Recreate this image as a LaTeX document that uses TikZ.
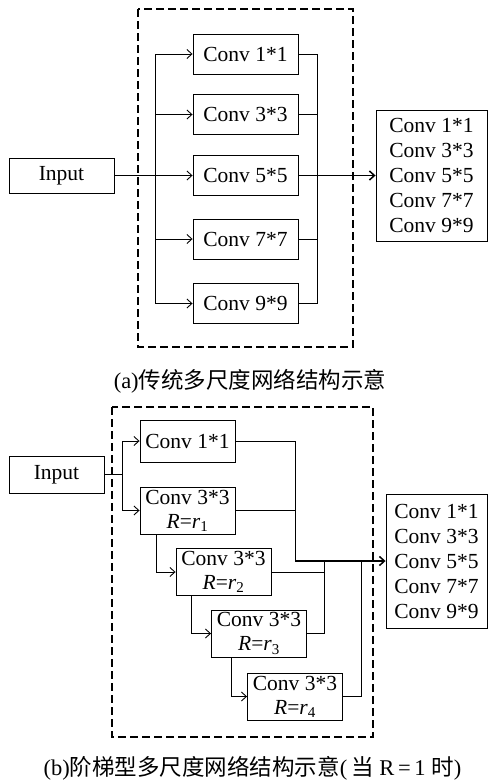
\documentclass[tikz,border=0pt]{standalone}
\usepackage{fontspec}
\setmainfont{Liberation Serif}
\newfontfamily\cjk{Noto Sans CJK SC}
\usetikzlibrary{arrows.meta}
\tikzset{
  convbox/.style={draw, line width=0.9pt, inner sep=0pt, minimum width=105pt,
    minimum height=40pt, font=\fontsize{21.5}{24}\selectfont},
  ladderbox/.style={convbox, minimum width=95pt, minimum height=47pt, align=center},
  listbox/.style={convbox, align=left, font=\fontsize{21.5}{25}\selectfont},
  link/.style={line width=0.9pt},
  mainlink/.style={line width=1.5pt},
  tip/.style={-{Straight Barb[length=5pt,width=9pt]}},
  groupframe/.style={line width=1.8pt, dash pattern=on 8pt off 4pt},
  caption/.style={font=\fontsize{22.5}{26}\selectfont},
}

\begin{document}
\begin{tikzpicture}[x=1pt, y=-1pt]
  \useasboundingbox (0,0) rectangle (488,782);

  % (a) parallel branches
  \draw[groupframe] (138,9) rectangle (353,347);
  \node[convbox, minimum height=35pt] (inA) at (61.5,175.5) {Input};
  \foreach \n/\y/\k in {1/54/1, 2/114.5/3, 3/175.5/5, 4/239/7, 5/303.5/9}{
    \node[convbox] (a\n) at (245.5,\y) {Conv \k*\k};
  }
  \node[listbox, minimum width=111pt, minimum height=131pt] (outA) at (431.5,175.5)
    {Conv 1*1\\Conv 3*3\\Conv 5*5\\Conv 7*7\\Conv 9*9};

  \coordinate (splitA) at (155,175.5);
  \coordinate (joinA) at (317,175.5);
  \draw[mainlink] (inA.east) -- (splitA);
  \draw[link] (a1.west -| splitA) -- (a5.west -| splitA);
  \draw[link] (a1.east -| joinA) -- (a5.east -| joinA);
  \foreach \n in {1,...,5}{
    \draw[link, tip] (a\n.west -| splitA) -- (a\n.west);
    \draw[link] (a\n.east) -- (a\n.east -| joinA);
  }
  \draw[mainlink, tip] (a3.east) -- (outA.west);

  \node[caption] (capA) at (250,381) {(a){\cjk 传统多尺度网络结构示意}};

  % (b) ladder branches
  \draw[groupframe] (112,407) rectangle (373,737);
  \node[convbox, minimum width=95pt, minimum height=37pt] (inB) at (56.5,474.5) {Input};
  \node[convbox, minimum width=95pt, minimum height=42pt] (b1) at (187.5,441) {Conv 1*1};
  \foreach \n/\x/\y in {1/187.5/510.5, 2/223.5/572, 3/259/633.5, 4/295/696.5}{
    \node[ladderbox] (r\n) at (\x,\y)
      {Conv 3*3\\\textit{R}=\textit{r}\textsubscript{\n}};
  }
  \node[listbox, minimum width=101pt, minimum height=134pt] (outB) at (436.5,561)
    {Conv 1*1\\Conv 3*3\\Conv 5*5\\Conv 7*7\\Conv 9*9};

  \coordinate (splitB) at (122,474.5);
  \draw[mainlink] (inB.east) -- (splitB);
  \draw[link] (b1.west -| splitB) -- (r1.west -| splitB);
  \draw[link, tip] (b1.west -| splitB) -- (b1.west);
  \draw[link, tip] (r1.west -| splitB) -- (r1.west);

  % steps down the ladder
  \draw[link, tip] (r1.south west) ++(17,0) |- (r2.west);
  \draw[link, tip] (r2.south west) ++(16,0) |- (r3.west);
  \draw[link, tip] (r3.south west) ++(20,0) |- (r4.west);

  % outputs gathered on the right
  \coordinate (joinB) at (295,561);
  \coordinate (midB) at (324,561);
  \coordinate (farB) at (361,561);
  \draw[link] (b1.east) -| (joinB);
  \draw[link] (r1.east) -- (r1.east -| joinB);
  \draw[link] (r2.east) -| (midB);
  \draw[link] (r3.east) -| (midB);
  \draw[link] (r4.east) -| (farB);
  \draw[mainlink, tip] (joinB) -- (outB.west);

  \node[caption] (capB) at (252.5,768)
    {(b){\cjk 阶梯型多尺度网络结构示意}(\,{\cjk 当} R\,=\,1 {\cjk 时})};
\end{tikzpicture}
\end{document}
